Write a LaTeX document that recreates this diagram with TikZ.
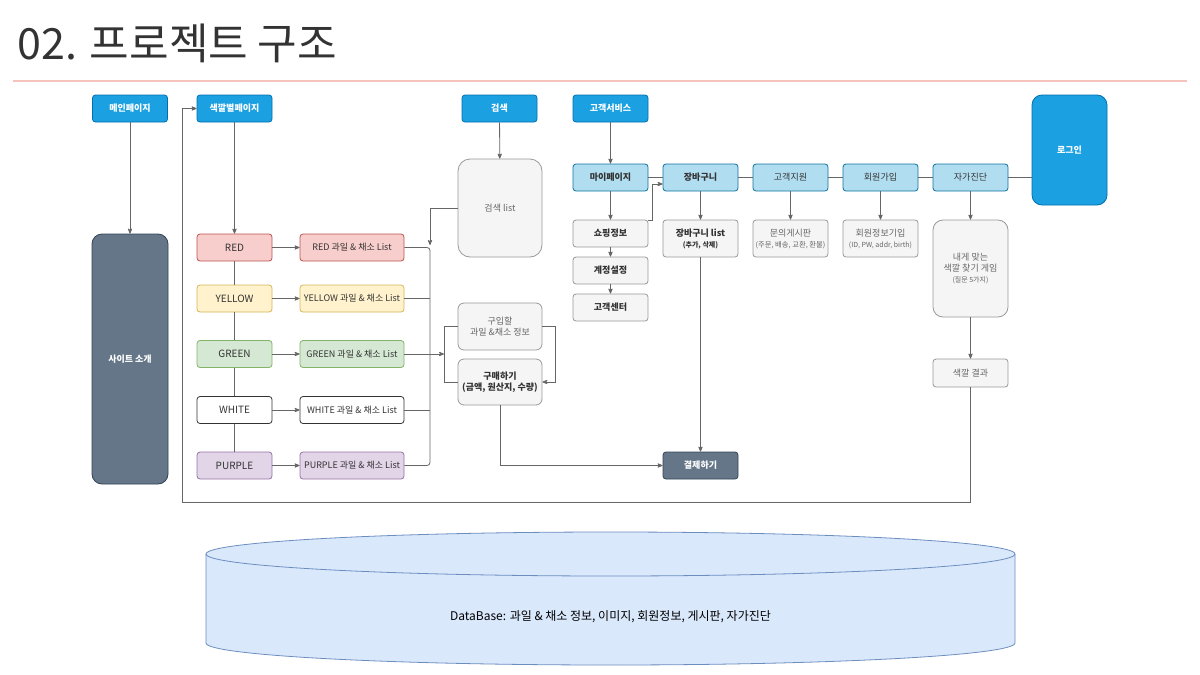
\documentclass[tikz,border=0pt]{standalone}
\usepackage{fontspec}
\setmainfont{Noto Sans CJK KR}
\usepackage{tikz}
\usetikzlibrary{arrows}
\usetikzlibrary{positioning,calc}

\definecolor{hdrblue}{HTML}{1BA1E2}
\definecolor{hdrline}{HTML}{006EAF}
\definecolor{slate}{HTML}{647687}
\definecolor{slateline}{HTML}{314354}
\definecolor{menublue}{HTML}{B1DDF0}
\definecolor{menuline}{HTML}{10739E}
\definecolor{subfill}{HTML}{F5F5F5}
\definecolor{subline}{HTML}{999999}
\definecolor{txtdark}{HTML}{333333}
\definecolor{txtgray}{HTML}{666666}
\definecolor{linegray}{HTML}{666666}
\definecolor{redfill}{HTML}{F8CECC}
\definecolor{redline}{HTML}{B85450}
\definecolor{yelfill}{HTML}{FFF2CC}
\definecolor{yelline}{HTML}{D6B656}
\definecolor{grnfill}{HTML}{D5E8D4}
\definecolor{grnline}{HTML}{82B366}
\definecolor{purfill}{HTML}{E1D5E7}
\definecolor{purline}{HTML}{9673A6}
\definecolor{dbfill}{HTML}{DAE8FC}
\definecolor{dbline}{HTML}{6C8EBF}
\definecolor{rule}{HTML}{F6C4BC}

\begin{document}
\begin{tikzpicture}[x=1pt,y=-1pt,->,>=stealth',line width=0.8pt,draw=linegray,
        box/.style={draw,rounded corners=3pt,minimum width=75pt,minimum height=27pt,
          inner sep=1pt,align=center,font=\fontsize{9}{11}\selectfont},
        hdr/.style={box,fill=hdrblue,draw=hdrline,text=white,font=\fontsize{9}{11}\selectfont\bfseries},
        dark/.style={box,fill=slate,draw=slateline,text=white,font=\fontsize{9}{11}\selectfont\bfseries},
        menu/.style={box,fill=menublue,draw=menuline,text=txtdark},
        sub/.style={box,fill=subfill,draw=subline,text=txtgray},
        colr/.style={box,font=\fontsize{10}{12}\selectfont,text=txtdark},
        lst/.style={box,minimum width=104pt,text=txtdark},
        conn/.style={draw=linegray}]
        \useasboundingbox (0,0) rectangle (1200,675);
        % title
        \node [anchor=west,inner sep=0pt,text=txtdark,font=\fontsize{43}{50}\selectfont] (title) at (17,43) {02. 프로젝트 구조};
        \draw [-,draw=rule,line width=1.2pt] (13,81) -- (1187,81);
        % top row
        \node [hdr] (main) at (130,108.5) {메인페이지};
        \node [hdr] (cpage) at (234.5,108.5) {색깔별페이지};
        \node [hdr] (search) at (499.5,108.5) {검색};
        \node [hdr] (service) at (610.5,108.5) {고객서비스};
        \node [hdr,minimum height=110pt,rounded corners=10pt] (login) at (1069.5,150) {로그인};
        \node [dark,minimum height=250pt,minimum width=76pt,rounded corners=10pt] (intro) at (130,359) {사이트 소개};
        % colour pages
        \node [colr,fill=redfill,draw=redline] (red) at (234.5,247.5) {RED};
        \node [colr,fill=yelfill,draw=yelline] (yellow) at (234.5,298.5) {YELLOW};
        \node [colr,fill=grnfill,draw=grnline] (green) at (234.5,354) {GREEN};
        \node [colr,fill=white,draw=txtdark] (white) at (234.5,410) {WHITE};
        \node [colr,fill=purfill,draw=purline] (purple) at (234.5,465.5) {PURPLE};
        \node [lst,fill=redfill,draw=redline] (redl) at (352,247.5) {RED 과일 \& 채소 List};
        \node [lst,fill=yelfill,draw=yelline] (yell) at (352,298.5) {YELLOW 과일 \& 채소 List};
        \node [lst,fill=grnfill,draw=grnline] (grnl) at (352,354) {GREEN 과일 \& 채소 List};
        \node [lst,fill=white,draw=txtdark] (whtl) at (352,410) {WHITE 과일 \& 채소 List};
        \node [lst,fill=purfill,draw=purline] (purl) at (352,465.5) {PURPLE 과일 \& 채소 List};
        % search and purchase
        \node [sub,minimum width=84pt,minimum height=98pt,rounded corners=12pt] (slist) at (500,208) {검색 list};
        \node [sub,minimum width=84pt,minimum height=47pt,rounded corners=6pt] (info) at (500,326.5) {구입할\\과일 \&채소 정보};
        \node [sub,minimum width=84pt,minimum height=46pt,rounded corners=6pt,text=txtdark,font=\fontsize{9}{11}\selectfont\bfseries] (buy) at (500,382) {구매하기\\(금액, 원산지, 수량)};
        \node [dark] (pay) at (700.5,465.5) {결제하기};
        % customer service
        \node [menu,font=\fontsize{9}{11}\selectfont\bfseries] (mypage) at (610.5,177.5) {마이페이지};
        \node [menu,font=\fontsize{9}{11}\selectfont\bfseries] (cart) at (700.5,177.5) {장바구니};
        \node [menu] (support) at (790.5,177.5) {고객지원};
        \node [menu] (join) at (880.5,177.5) {회원가입};
        \node [menu] (selfdx) at (970.5,177.5) {자가진단};
        \node [sub,text=txtdark,font=\fontsize{9}{11}\selectfont\bfseries] (shop) at (610.5,233.5) {쇼핑정보};
        \node [sub,text=txtdark,font=\fontsize{9}{11}\selectfont\bfseries] (acct) at (610.5,270.5) {계정설정};
        \node [sub,text=txtdark,font=\fontsize{9}{11}\selectfont\bfseries] (help) at (610.5,307.5) {고객센터};
        \node [sub,minimum height=37pt,text=txtdark,font=\fontsize{9}{11}\selectfont\bfseries] (cartl) at (700.5,238.5) {장바구니 list\\{\fontsize{7}{9}\selectfont(추가, 삭제)}};
        \node [sub,minimum height=37pt] (qna) at (790.5,238.5) {문의게시판\\{\fontsize{7.3}{9}\selectfont(주문, 배송, 교환, 환불)}};
        \node [sub,minimum height=37pt] (member) at (880.5,238.5) {회원정보기입\\{\fontsize{7}{9}\selectfont(ID, PW, addr, birth)}};
        \node [sub,minimum height=97pt,rounded corners=10pt] (game) at (970.5,268.5) {내게 맞는\\색깔 찾기 게임\\{\fontsize{7}{9}\selectfont(질문 5가지)}};
        \node [sub,minimum height=28pt] (result) at (970.5,373) {색깔 결과};
        % database
        \filldraw [-,fill=dbfill,draw=dbline] (206,554) -- (206,643)
          arc [start angle=180,end angle=0,x radius=404.5,y radius=22] -- (1015,554)
          arc [start angle=0,end angle=-180,x radius=404.5,y radius=22] -- cycle;
        \draw [-,draw=dbline] (206,554) arc [start angle=180,end angle=0,x radius=404.5,y radius=22];
        \node [text=black,font=\fontsize{12}{14}\selectfont] (db) at (610.5,617) {DataBase: 과일 \& 채소 정보, 이미지, 회원정보, 게시판, 자가진단};
        % helper points
        \coordinate (bus) at (430,350);
        \coordinate (busin) at (430,245);
        \coordinate (brk) at (444,350);
        \coordinate (loop) at (182,502);
        % connectors
        \draw [conn] (main) to (intro);
        \draw [conn] (cpage) to (red);
        \draw [conn,-] (red) to (yellow);
        \draw [conn,-] (yellow) to (green);
        \draw [conn,-] (green) to (white);
        \draw [conn,-] (white) to (purple);
        \draw [conn] (red) to (redl);
        \draw [conn] (yellow) to (yell);
        \draw [conn] (green) to (grnl);
        \draw [conn] (white) to (whtl);
        \draw [conn] (purple) to (purl);
        \draw [conn,-,rounded corners=3pt] (redl.east) -| ($(purl.east -| bus)$) -- (purl.east);
        \draw [conn,-] (yell.east) -- (yell.east -| bus);
        \draw [conn,-] (whtl.east) -- (whtl.east -| bus);
        \draw [conn] (slist.west) -| (busin);
        \draw [conn] (search) to (slist);
        \draw [conn] (grnl.east) -- (grnl.east -| brk);
        \draw [conn,-] (info.west) -| ($(buy.west -| brk)$) -- (buy.west);
        \draw [conn] (info.east) -- ++(13,0) |- (buy.east);
        \draw [conn] (buy.south) |- (pay.west);
        \draw [conn] (cartl.south) -- (pay.north);
        \draw [conn] (service) to (mypage);
        \draw [conn,-] (mypage) -- (cart);
        \draw [conn,-] (cart) -- (support);
        \draw [conn,-] (support) -- (join);
        \draw [conn,-] (join) -- (selfdx);
        \draw [conn,-] (selfdx.east) -- (selfdx.east -| login.west);
        \draw [conn] (mypage) to (shop);
        \draw [conn] (shop) to (acct);
        \draw [conn] (acct) to (help);
        \draw [conn] ($(shop.north east)+(0,1)$) -- ++(4,0) |- ($(cart.west)+(0,6.5)$);
        \draw [conn] (cart) to (cartl);
        \draw [conn] (support) to (qna);
        \draw [conn] (join) to (member);
        \draw [conn] (selfdx) to (game);
        \draw [conn] (game) to (result);
        \draw [conn] (result.south) |- (loop) |- (cpage.west);
\end{tikzpicture}
\end{document}
